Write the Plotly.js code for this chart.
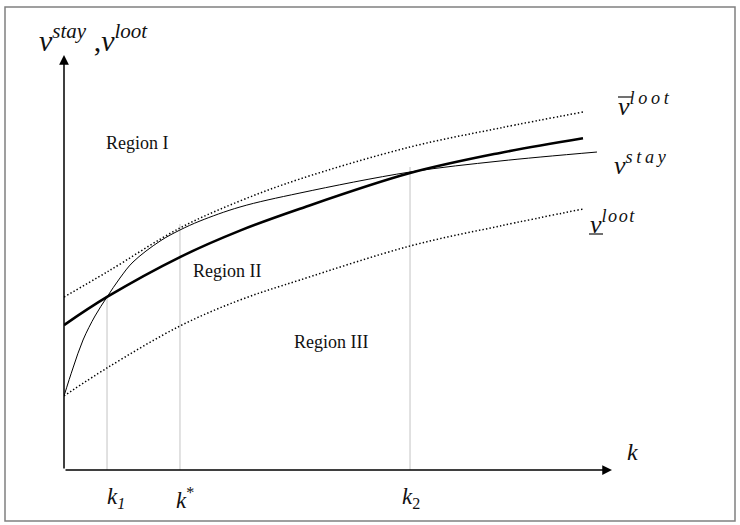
<!DOCTYPE html>
<html>
<head>
<meta charset="utf-8">
<script src="https://cdn.plot.ly/plotly-3.0.1.min.js"></script>
<style>html,body{margin:0;padding:0;background:#fff;}#chart{width:740px;height:525px;}</style>
</head>
<body>
<div id="chart"></div>
<script>
// ---- data (abstract units: k on x, v on y) ----
const kUpper = [0, 0.717, 1.933, 2.933, 3.933, 5.767, 7.267, 8.65];
const vUpper = [4.119, 4.714, 5.762, 6.405, 6.929, 7.690, 8.143, 8.524];

const kMid = [0, 0.717, 1.933, 2.933, 3.933, 5.767, 7.267, 8.65];
const vMid = [3.45, 4.12, 5.07, 5.70, 6.22, 7.07, 7.55, 7.90];

const kStay = [0, 0.15, 0.317, 0.517, 0.717, 0.933, 1.15, 1.6, 1.933, 2.267, 2.933, 3.933, 5.767, 7.267, 8.883];
const vStay = [1.762, 2.429, 3.095, 3.667, 4.119, 4.571, 4.952, 5.45, 5.714, 5.929, 6.262, 6.595, 7.095, 7.357, 7.571];

const kLower = [0, 0.717, 1.933, 2.933, 3.933, 5.767, 7.267, 8.65];
const vLower = [1.762, 2.429, 3.429, 4.048, 4.524, 5.333, 5.810, 6.214];

const kMarks = [0.717, 1.933, 5.767];          // k1, k*, k2
const kMarkTops = [4.119, 5.857, 7.214];       // where guide lines stop
const kMarkLabels = ['<i>k</i><sub><i>1</i></sub>', '<i>k</i><sup>*</sup>', '<i>k</i><sub>2</sub>'];

const xTip = 9.133, yTip = 9.881;

// pixel helpers for decorations (plot area: x 64..664, y 50..470)
const PX = px => (px - 64) / 600;
const PY = py => (470 - py) / 420;

const serif = 'Liberation Serif, Times New Roman, serif';
const dotted = '1.4px,2.2px';
const traces = [];
for (let i = 0; i < kMarks.length; i++) {
  traces.push({x: [kMarks[i], kMarks[i]], y: [0, kMarkTops[i]], mode: 'lines',
    line: {color: '#c4c4c4', width: 1}, hoverinfo: 'skip', showlegend: false});
}
traces.push({x: kUpper, y: vUpper, mode: 'lines', line: {color: '#000', width: 1.5, dash: dotted, shape: 'spline'}, hoverinfo: 'skip', showlegend: false});
traces.push({x: kLower, y: vLower, mode: 'lines', line: {color: '#000', width: 1.5, dash: dotted, shape: 'spline'}, hoverinfo: 'skip', showlegend: false});
traces.push({x: kStay, y: vStay, mode: 'lines', line: {color: '#000', width: 1, shape: 'spline'}, hoverinfo: 'skip', showlegend: false});
traces.push({x: kMid, y: vMid, mode: 'lines', line: {color: '#000', width: 2.6, shape: 'spline'}, hoverinfo: 'skip', showlegend: false});

const ann = [];
// axes arrows
ann.push({x: 0, y: yTip, ax: 0, ay: 0, xref: 'x', yref: 'y', axref: 'x', ayref: 'y', text: '', showarrow: true,
  arrowhead: 2, arrowsize: 1.3, arrowwidth: 1.5, arrowcolor: '#000'});
ann.push({x: xTip, y: 0, ax: 0, ay: 0, xref: 'x', yref: 'y', axref: 'x', ayref: 'y', text: '', showarrow: true,
  arrowhead: 2, arrowsize: 1.3, arrowwidth: 1.5, arrowcolor: '#000'});
function txt(t, px, py, size, anchor) {
  ann.push({x: PX(px), y: PY(py), xref: 'paper', yref: 'paper', text: t, showarrow: false,
    xanchor: anchor || 'center', yanchor: 'middle', font: {family: serif, size: size, color: '#111'}});
}
// axis labels
txt('<i>v</i><sup><i>stay</i></sup> ,<i>v</i><sup><i>loot</i></sup>', 37, 38, 30, 'left');
txt('<i>k</i>', 632, 452, 24);
for (let i = 0; i < kMarks.length; i++) {
  const cx = [116, 185, 411][i];
  txt(kMarkLabels[i], cx, 498, 23);
}
// region labels
txt('Region I', 137, 143, 18);
txt('Region II', 227, 271, 18);
txt('Region III', 331, 342, 18);
// curve labels
txt('<i>v</i><sup><i>l\u2009o\u2009o\u2009t</i></sup>', 616, 104, 26, 'left');
txt('<i>v</i><sup><i>s\u2009t\u2009a\u2009y</i></sup>', 612, 163, 26, 'left');
txt('<i>v</i><sup><i>l\u200ao\u200ao\u200at</i></sup>', 588, 222, 26, 'left');

const layout = {
  width: 740, height: 525,
  margin: {l: 64, r: 76, t: 50, b: 55, pad: 0},
  paper_bgcolor: '#fff', plot_bgcolor: '#fff',
  xaxis: {range: [0, 10], visible: false, fixedrange: true},
  yaxis: {range: [0, 10], visible: false, fixedrange: true},
  showlegend: false,
  annotations: ann,
  shapes: [
    {type: 'rect', xref: 'paper', yref: 'paper',
     x0: PX(5), x1: PX(735), y0: PY(521), y1: PY(7),
     line: {color: '#808080', width: 1.5}, fillcolor: 'rgba(0,0,0,0)'},
    // overline of the upper v and underline of the lower v
    {type: 'line', xref: 'paper', yref: 'paper', x0: PX(618), x1: PX(632), y0: PY(97), y1: PY(97), line: {color: '#111', width: 1.2}},
    {type: 'line', xref: 'paper', yref: 'paper', x0: PX(589), x1: PX(603), y0: PY(234), y1: PY(234), line: {color: '#111', width: 1.2}}
  ]
};
Plotly.newPlot('chart', traces, layout, {staticPlot: true, displayModeBar: false});
</script>
</body>
</html>
